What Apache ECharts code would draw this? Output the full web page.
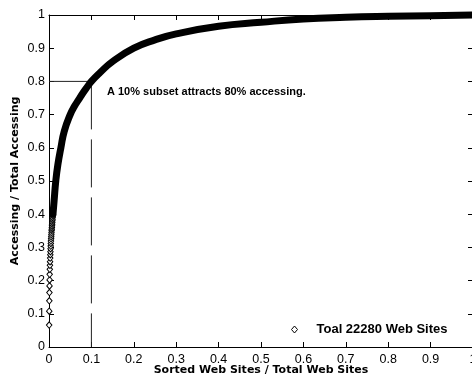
<!DOCTYPE html>
<html>
<head>
<meta charset="utf-8">
<style>
  html, body { margin: 0; padding: 0; background: #fff; }
  #chart { width: 472px; height: 378px; }
</style>
<script src="https://cdn.jsdelivr.net/npm/echarts@6/dist/echarts.min.js"></script>
</head>
<body>
<div id="chart"></div>
<script>
// Sparse individual markers near the origin (top-ranked sites)
const headX = [0.0004, 0.0006, 0.0008, 0.001, 0.0012, 0.0014, 0.0016, 0.0019, 0.0022, 0.0025, 0.0028, 0.0031, 0.0034, 0.0037, 0.004, 0.0043, 0.0046,
               0.005, 0.0053, 0.0056, 0.0059, 0.0062, 0.0065, 0.0068, 0.0071, 0.0074, 0.0077, 0.008, 0.0083, 0.0086, 0.009, 0.0094];
const headY = [0.066, 0.108, 0.139, 0.164, 0.184, 0.202, 0.219, 0.234, 0.246, 0.257, 0.268, 0.278, 0.287, 0.296, 0.304, 0.312, 0.319,
               0.326, 0.332, 0.338, 0.344, 0.35, 0.355, 0.36, 0.365, 0.37, 0.375, 0.38, 0.385, 0.39, 0.395, 0.40];
// Dense part of the cumulative curve
const curveX = [0.0094, 0.012, 0.016, 0.021, 0.028, 0.036, 0.05, 0.06, 0.07, 0.08, 0.09, 0.1, 0.12, 0.15, 0.2, 0.25, 0.3, 0.4, 0.5, 0.6, 0.7, 0.8, 0.9, 1.0];
const curveY = [0.40, 0.44, 0.50, 0.55, 0.60, 0.65, 0.70, 0.725, 0.745, 0.765, 0.783, 0.80, 0.826, 0.86, 0.90, 0.925, 0.943, 0.966, 0.978, 0.988, 0.993, 0.996, 0.998, 1.0];
// 10% / 80% reference lines
const hRefX = [0, 0.1];
const hRefY = [0.8, 0.8];
const vRefX = [0.1, 0.1];
const vRefY = [0.8, 0];

const legendName = 'Toal 22280 Web Sites';
const annotation = 'A 10% subset attracts 80% accessing.';
const xName = 'Sorted Web Sites / Total Web Sites';
const yName = 'Accessing / Total Accessing';

const zip = (a, b) => a.map((v, i) => [v, b[i]]);

const chart = echarts.init(document.getElementById('chart'), null, { renderer: 'canvas' });

const tickFont = { fontFamily: 'Arial, Liberation Sans, sans-serif', fontSize: 12.5, color: '#000' };
const nameFont = { fontFamily: 'DejaVu Sans', fontWeight: 'bold', fontSize: 11, color: '#000' };

chart.setOption({
  animation: false,
  backgroundColor: '#fff',
  grid: { left: 49, right: -1, top: 15, bottom: 31, containLabel: false, outerBoundsMode: 'none' },
  xAxis: [
    {
      type: 'value', min: 0, max: 1, interval: 0.1, position: 'bottom',
      name: xName, nameLocation: 'middle', nameGap: 18, nameMoveOverlap: false, nameTextStyle: nameFont,
      axisLine: { show: true, onZero: false, lineStyle: { color: '#000', width: 1 } },
      axisTick: { show: true, inside: true, length: 5, lineStyle: { color: '#000' } },
      axisLabel: Object.assign({ margin: 6 }, tickFont),
      splitLine: { show: false }
    },
    {
      type: 'value', min: 0, max: 1, interval: 0.1, position: 'top',
      axisLine: { show: true, onZero: false, lineStyle: { color: '#000', width: 1 } },
      axisTick: { show: true, inside: true, length: 5, lineStyle: { color: '#000' } },
      axisLabel: { show: false }, splitLine: { show: false }
    }
  ],
  yAxis: [
    {
      type: 'value', min: 0, max: 1, interval: 0.1, position: 'left',
      name: yName, nameLocation: 'middle', nameGap: 28, nameRotate: 90, nameMoveOverlap: false, nameTextStyle: nameFont,
      axisLine: { show: true, onZero: false, lineStyle: { color: '#000', width: 1 } },
      axisTick: { show: true, inside: true, length: 5, lineStyle: { color: '#000' } },
      axisLabel: Object.assign({ margin: 4 }, tickFont),
      splitLine: { show: false }
    },
    {
      type: 'value', min: 0, max: 1, interval: 0.1, position: 'right',
      axisLine: { show: true, onZero: false, lineStyle: { color: '#000', width: 1 } },
      axisTick: { show: true, inside: true, length: 5, lineStyle: { color: '#000' } },
      axisLabel: { show: false }, splitLine: { show: false }
    }
  ],
  legend: {
    data: [{ name: legendName, icon: 'diamond' }],
    left: 286, top: 318,
    itemWidth: 6, itemHeight: 7,
    itemStyle: { color: '#fff', borderColor: '#000', borderWidth: 1 },
    textStyle: { fontFamily: 'Arial, Liberation Sans, sans-serif', fontWeight: 'bold', fontSize: 13, color: '#000', padding: [0, 0, 0, 14] },
    selectedMode: false
  },
  graphic: [
    {
      type: 'text', left: 107, top: 86,
      style: { text: annotation, font: 'bold 11px Arial, "Liberation Sans", sans-serif', fill: '#000' }
    }
  ],
  series: [
    {
      name: 'ref-h', type: 'line', data: zip(hRefX, hRefY), showSymbol: false, silent: true,
      lineStyle: { color: '#222', width: 1 }, z: 1
    },
    {
      name: 'ref-v', type: 'line', data: zip(vRefX, vRefY), showSymbol: false, silent: true,
      lineStyle: { color: '#222', width: 1, type: [48, 10] }, z: 1
    },
    {
      name: 'curve', type: 'line', data: zip(curveX, curveY), showSymbol: false, clip: false,
      smooth: 0.5,
      lineStyle: { color: '#000', width: 7, cap: 'round', join: 'round' }, z: 3
    },
    {
      name: legendName, type: 'scatter', data: zip(headX, headY), clip: false,
      symbol: 'diamond', symbolSize: [5.5, 6.5],
      itemStyle: { color: '#fff', borderColor: '#000', borderWidth: 1, opacity: 1 }, z: 2
    }
  ]
});
</script>
</body>
</html>
